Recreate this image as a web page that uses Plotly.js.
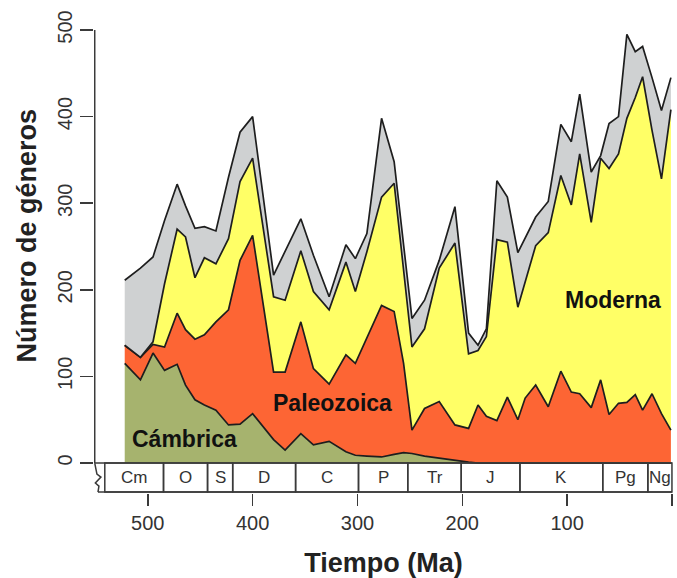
<!DOCTYPE html>
<html>
<head>
<meta charset="utf-8">
<script src="https://cdn.plot.ly/plotly-3.0.1.min.js"></script>
<style>html,body{margin:0;padding:0;background:#fff;}#chart{width:677px;height:578px;}</style>
</head>
<body>
<div id="chart"></div>
<script>
// Ages (Ma) of the sampled intervals
const ages = [522,507,495,484,472,464,455,446,435,423,412,400,380,369,354,342,327,311,302,291,277,265,256,248,236,222,207,194,185,177,167,157,147,140,130,118,106,96,88,77,68,60,51,43,35,28,19,10,1];
// Number of genera per evolutionary fauna
const cambrica = [115,96,127,107,114,90,73,67,61,44,45,57,27,15,34,21,25,13,9,8,7,10,12,11,8,6,3,1,0,0,0,0,0,0,0,0,0,0,0,0,0,0,0,0,0,0,0,0,0];
const paleozoica = [21,26,10,27,59,64,70,81,102,133,189,206,78,90,129,88,66,112,106,137,175,165,103,27,55,65,41,39,67,54,49,76,50,75,90,65,106,82,80,64,96,56,69,70,79,61,80,57,38];
const moderna = [0,0,3,73,97,107,71,89,67,82,91,89,87,83,82,89,86,107,83,99,125,148,108,96,92,154,210,86,63,92,209,179,130,135,161,201,226,216,277,214,256,284,288,328,343,385,304,271,370];
const otros = [75,103,98,73,52,36,57,36,38,71,57,48,25,56,37,42,15,20,38,21,91,25,29,33,33,9,42,24,6,9,68,52,63,50,33,36,59,73,69,58,3,52,43,97,53,35,61,79,37];

// Geological periods
const periodNames = ['Cm','O','S','D','C','P','Tr','J','K','Pg','Ng'];
const periodStart = [541,485,443,419,359,299,252,201,145,66,23];
const periodEnd   = [485,443,419,359,299,252,201,145,66,23,0];

const xTicks = [500,400,300,200,100,0];
const yTicks = [0,100,200,300,400,500];

const FONT = 'Liberation Sans, Arial, Helvetica, sans-serif';
const LINE = '#1e1e1e';
const BAR_BOTTOM = -33.5;

function area(name, y, color) {
  return {
    type: 'scatter', mode: 'lines', name: name, x: ages, y: y,
    stackgroup: 'faunas', fillcolor: color,
    line: {color: LINE, width: 1.7, shape: 'linear'},
    hoverinfo: 'x+y+name'
  };
}

const traces = [
  area('Cámbrica', cambrica, '#a6b36e'),
  area('Paleozoica', paleozoica, '#fd6534'),
  area('Moderna', moderna, '#ffff66'),
  area('Otros', otros, '#cfd1d2')
];

const shapes = [];
for (let i = 0; i < periodNames.length; i++) {
  shapes.push({type: 'rect', xref: 'x', yref: 'y', x0: periodStart[i], x1: periodEnd[i],
    y0: BAR_BOTTOM, y1: 0, line: {color: '#3a3a3a', width: 1.5}, fillcolor: 'rgba(0,0,0,0)', layer: 'above'});
}
shapes.push({type: 'line', xref: 'x', yref: 'y', x0: 550.6, x1: 0, y0: 0, y1: 0, line: {color: '#3a3a3a', width: 1.5}, layer: 'above'});
shapes.push({type: 'line', xref: 'x', yref: 'y', x0: 547.5, x1: 0, y0: BAR_BOTTOM, y1: BAR_BOTTOM, line: {color: '#3a3a3a', width: 1.5}, layer: 'above'});
shapes.push({type: 'line', xref: 'x', yref: 'y', x0: 550.6, x1: 550.6, y0: 0, y1: 500, line: {color: '#3a3a3a', width: 1.5}, layer: 'above'});
shapes.push({type: 'path', xref: 'x', yref: 'y',
  path: 'M 550.6 0 L 548.5 -12.7 L 544.7 -16.2 L 550.0 -23.1 L 546.6 -26.6 L 547.5 -33.5',
  line: {color: '#3a3a3a', width: 1.5}, layer: 'above'});

const annotations = periodNames.map((n, i) => ({
  x: (periodStart[i] + periodEnd[i]) / 2, y: BAR_BOTTOM / 2, xref: 'x', yref: 'y',
  text: n, showarrow: false, font: {family: FONT, size: 17, color: '#333'}
}));
annotations.push(
  {x: 56, y: 188, xref: 'x', yref: 'y', text: '<b>Moderna</b>', showarrow: false, font: {family: FONT, size: 23, color: '#111'}},
  {x: 324, y: 69, xref: 'x', yref: 'y', text: '<b>Paleozoica</b>', showarrow: false, font: {family: FONT, size: 23, color: '#111'}},
  {x: 465, y: 28, xref: 'x', yref: 'y', text: '<b>Cámbrica</b>', showarrow: false, font: {family: FONT, size: 23, color: '#111'}},
  {x: -0.115, y: 0.557, xref: 'paper', yref: 'paper', xanchor: 'center', yanchor: 'middle', textangle: -90,
   text: '<b>Número de géneros</b>', showarrow: false, font: {family: FONT, size: 27, color: '#222'}}
);

const layout = {
  width: 677, height: 578,
  margin: {l: 94, r: 4, t: 30, b: 85},
  paper_bgcolor: '#fff', plot_bgcolor: '#fff',
  showlegend: false,
  font: {family: FONT, color: '#333'},
  xaxis: {
    range: [551.3, -1], autorange: false,
    tickvals: xTicks, ticktext: xTicks.map(String),
    ticks: 'outside', ticklen: 12, tickwidth: 1.5, tickcolor: '#3a3a3a',
    tickfont: {family: FONT, size: 20, color: '#333'},
    showgrid: false, zeroline: false, showline: false,
    title: {text: '<b>Tiempo (Ma)</b>', font: {family: FONT, size: 27, color: '#222'}, standoff: 20}
  },
  yaxis: {
    range: [-34.6, 500], autorange: false,
    tickvals: yTicks, ticktext: yTicks.map(String), tickangle: -90,
    ticks: 'outside', ticklen: 13, tickwidth: 1.5, tickcolor: '#3a3a3a',
    tickfont: {family: FONT, size: 20, color: '#333'},
    showgrid: false, zeroline: false, showline: false
  },
  shapes: shapes,
  annotations: annotations
};

Plotly.newPlot('chart', traces, layout, {displayModeBar: false, staticPlot: true});
</script>
</body>
</html>
